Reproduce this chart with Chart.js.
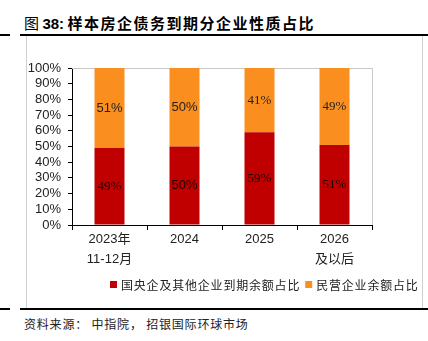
<!DOCTYPE html>
<html>
<head>
<meta charset="utf-8">
<script src="https://cdn.jsdelivr.net/npm/chart.js@4"></script>
<style>
  body { margin: 0; width: 428px; height: 341px; background: #fff; position: relative; overflow: hidden;
         font-family: "Liberation Sans", "Noto Sans CJK SC", sans-serif; }
  .abs { position: absolute; }
  #title { left: 24px; top: 12px; font-size: 15px; color: #000; white-space: nowrap; font-family: "Noto Sans CJK SC", sans-serif; }
  #title b.num { font-family: "Liberation Sans", sans-serif; }
  #title b.cn { letter-spacing: 1.5px; font-weight: 600; }
  #source { left: 24px; top: 315px; font-size: 12px; color: #222; letter-spacing: 0.8px; white-space: nowrap; font-family: "Noto Sans CJK SC", sans-serif; }
  .bar { background: #000; height: 2px; }
  #box { left: 26px; top: 36px; width: 395px; height: 272px; border-left: 1px solid #d0d0d0; border-right: 1px solid #d0d0d0; }
  canvas { position: absolute; left: 0; top: 0; }
</style>
</head>
<body>
<div id="title" class="abs">图 <b class="num">38:</b> <b class="cn">样本房企债务到期分企业性质占比</b></div>
<div id="box" class="abs"></div>
<div class="abs bar" style="left:0;top:34px;width:10px;"></div>
<div class="abs bar" style="left:20px;top:34px;width:408px;"></div>
<div class="abs bar" style="left:0;top:308px;width:10px;"></div>
<div class="abs bar" style="left:20px;top:308px;width:408px;"></div>
<div id="source" class="abs">资料来源： 中指院， 招银国际环球市场</div>
<canvas id="chart" width="428" height="341"></canvas>
<script>
var categories = [["2023年", "11-12月"], "2024", "2025", ["2026", "及以后"]];
var stateShare = [49, 50, 59, 51];
var privateShare = [51, 50, 41, 49];
var seriesNames = ["国央企及其他企业到期余额占比", "民营企业余额占比"];

var sansFont = "Liberation Sans";
var serifFont = "Liberation Serif";
// label font per dataset / category, as seen in the picture
var labelFamilies = [
  [serifFont, sansFont, serifFont, serifFont],
  [sansFont, sansFont, serifFont, serifFont]
];

var barLabels = {
  id: "barLabels",
  afterDatasetsDraw: function (chart) {
    var ctx = chart.ctx;
    ctx.save();
    ctx.textAlign = "center";
    ctx.textBaseline = "middle";
    chart.data.datasets.forEach(function (ds, di) {
      var meta = chart.getDatasetMeta(di);
      ctx.fillStyle = di === 0 ? "#1a0000" : "#222";
      meta.data.forEach(function (bar, i) {
        ctx.font = "13px '" + labelFamilies[di][i] + "'";
        ctx.fillText(ds.data[i] + "%", bar.x, (bar.y + bar.base) / 2);
      });
    });
    ctx.restore();
  }
};

var plotFrame = {
  id: "plotFrame",
  beforeDatasetsDraw: function (chart) {
    var a = chart.chartArea, ctx = chart.ctx;
    ctx.save();
    ctx.strokeStyle = "#c8c8c8";
    ctx.lineWidth = 1;
    ctx.beginPath();
    ctx.moveTo(a.left, a.top + 0.5);
    ctx.lineTo(a.right + 0.5, a.top + 0.5);
    ctx.lineTo(a.right + 0.5, a.bottom);
    ctx.stroke();
    ctx.restore();
  }
};

var legendDraw = {
  id: "legendDraw",
  afterDraw: function (chart) {
    var ctx = chart.ctx;
    ctx.save();
    ctx.font = "12px 'Noto Sans CJK SC'";
    ctx.letterSpacing = "0.8px";
    ctx.textBaseline = "middle";
    var x = 110, y = 284;
    chart.data.datasets.forEach(function (ds) {
      ctx.fillStyle = ds.backgroundColor;
      ctx.fillRect(x, y - 3, 7, 7);
      x += 11;
      ctx.fillStyle = "#222";
      ctx.fillText(ds.label, x, y + 1);
      x += ctx.measureText(ds.label).width + 5;
    });
    ctx.restore();
  }
};

new Chart(document.getElementById("chart"), {
  type: "bar",
  data: {
    labels: categories,
    datasets: [
      { label: seriesNames[0], data: stateShare, backgroundColor: "#C00000" },
      { label: seriesNames[1], data: privateShare, backgroundColor: "#FA8F20" }
    ]
  },
  options: {
    responsive: false,
    animation: false,
    layout: { padding: { left: 26, right: 56, top: 68, bottom: 66 } },
    datasets: { bar: { categoryPercentage: 1, barPercentage: 0.4 } },
    plugins: { legend: { display: false }, tooltip: { enabled: false } },
    scales: {
      x: {
        stacked: true,
        afterFit: function (s) { s.height = 50; },
        border: { color: "#000", width: 1 },
        grid: { drawOnChartArea: false, drawTicks: true, tickLength: 5, color: "#000", offset: true },
        ticks: { color: "#222", padding: 0, font: { family: "Liberation Sans, Noto Sans CJK SC", size: 13, lineHeight: 1.5 }, maxRotation: 0 }
      },
      y: {
        stacked: true,
        min: 0,
        max: 100,
        afterFit: function (s) { s.width = 46; },
        border: { color: "#000", width: 1 },
        grid: { drawOnChartArea: false, drawTicks: true, tickLength: 4, color: "#000" },
        ticks: { stepSize: 10, autoSkip: false, color: "#222", padding: 7, font: { family: "Liberation Sans", size: 13 },
                 callback: function (v) { return v + "%"; } }
      }
    }
  },
  plugins: [plotFrame, barLabels, legendDraw]
});
</script>
</body>
</html>
